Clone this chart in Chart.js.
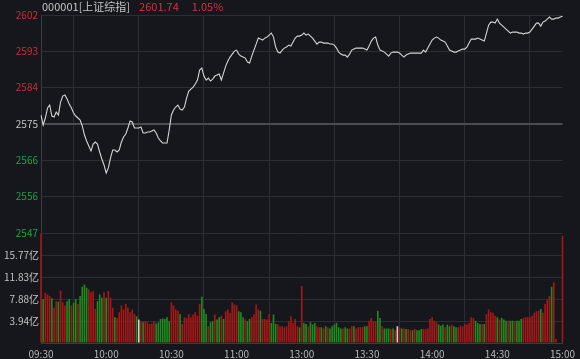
<!DOCTYPE html>
<html>
<head>
<meta charset="utf-8">
<script src="https://cdn.jsdelivr.net/npm/chart.js@4.4.1/dist/chart.umd.min.js"></script>
<style>
  html, body { margin: 0; padding: 0; background: #15171c; }
  #wrap { position: relative; width: 580px; height: 359px; }
  #title { position: absolute; left: 42px; top: -1px; font: 11px "Noto Sans CJK SC", sans-serif; color: #c4c4c4; white-space: nowrap; line-height: 14px; }
  #title .up { color: #d8333b; }
</style>
</head>
<body>
<div id="wrap">
  <canvas id="minuteChart" width="580" height="359"></canvas>
  <div id="title">000001[上证综指]<span class="up" style="margin-left:9px">2601.74</span><span class="up" style="margin-left:13px">1.05%</span></div>
</div>
<script>
//minute data, 09:30 -> 15:00 (241 points)
var prices = [
  2576.95, 2574.45, 2576.20, 2578.71, 2579.46, 2576.70, 2576.45, 2577.70, 2576.95, 2580.21,
  2581.71, 2581.96, 2580.96, 2579.71, 2578.71, 2577.45, 2576.70, 2576.20, 2575.70, 2574.20,
  2571.94, 2570.44, 2569.19, 2567.93, 2569.69, 2570.19, 2569.69, 2567.68, 2565.93, 2564.43,
  2562.42, 2563.68, 2566.18, 2568.18, 2568.18, 2567.68, 2568.18, 2570.19, 2571.44, 2572.19,
  2573.69, 2575.45, 2575.20, 2573.69, 2573.69, 2573.69, 2573.94, 2572.44, 2572.44, 2572.69,
  2572.69, 2572.94, 2573.19, 2572.44, 2571.19, 2570.44, 2569.94, 2569.94, 2569.94, 2573.19,
  2576.95, 2578.20, 2578.96, 2579.46, 2578.46, 2578.20, 2578.96, 2581.21, 2582.96, 2583.46,
  2583.96, 2584.72, 2585.72, 2588.22, 2588.72, 2586.72, 2585.72, 2586.22, 2585.47, 2585.97,
  2586.72, 2586.97, 2587.22, 2585.72, 2587.47, 2589.22, 2590.47, 2591.48, 2592.23, 2592.98,
  2593.23, 2592.23, 2591.73, 2591.48, 2591.23, 2590.22, 2589.97, 2591.73, 2593.23, 2594.74,
  2596.24, 2595.99, 2595.74, 2596.24, 2596.49, 2596.99, 2597.49, 2596.49, 2593.98, 2592.73,
  2592.48, 2593.23, 2593.73, 2593.98, 2594.49, 2594.23, 2595.24, 2596.24, 2596.74, 2596.74,
  2596.99, 2597.49, 2596.99, 2597.24, 2596.74, 2596.24, 2595.49, 2594.74, 2595.24, 2595.24,
  2594.99, 2594.99, 2594.99, 2594.74, 2594.74, 2594.49, 2593.73, 2592.73, 2592.23, 2591.98,
  2591.98, 2591.48, 2592.23, 2593.23, 2593.48, 2593.73, 2593.73, 2593.73, 2593.73, 2593.48,
  2593.23, 2594.23, 2595.49, 2596.24, 2596.49, 2594.49, 2593.23, 2592.98, 2592.73, 2592.23,
  2591.73, 2592.48, 2592.73, 2592.73, 2592.73, 2592.48, 2591.98, 2591.48, 2591.98, 2592.23,
  2592.48, 2592.48, 2592.48, 2592.48, 2592.48, 2592.48, 2593.23, 2592.73, 2593.73, 2594.74,
  2595.74, 2596.24, 2596.49, 2596.24, 2595.74, 2595.49, 2595.24, 2594.23, 2593.23, 2592.98,
  2592.73, 2592.73, 2592.98, 2593.23, 2593.48, 2593.48, 2593.98, 2594.99, 2595.99, 2595.99,
  2595.99, 2596.24, 2595.99, 2595.74, 2595.49, 2597.49, 2599.49, 2600.25, 2600.25, 2600.00,
  2601.00, 2600.00, 2599.49, 2598.99, 2598.49, 2597.99, 2597.49, 2597.74, 2597.74, 2597.74,
  2597.49, 2597.49, 2597.24, 2597.49, 2597.49, 2597.74, 2598.49, 2599.24, 2600.00, 2600.00,
  2599.24, 2600.25, 2600.50, 2601.00, 2601.50, 2601.00, 2601.00, 2601.25, 2601.25, 2601.50,
  2601.74
];

//turnover in 亿
var volumes = [
  19.6, 7.9, 9.0, 8.7, 8.4, 8.0, 6.3, 7.5, 7.4, 9.4,
  7.3, 6.7, 7.5, 7.9, 6.7, 7.2, 7.9, 7.0, 8.4, 10.1,
  10.5, 9.9, 9.6, 9.1, 9.3, 6.1, 7.5, 8.7, 8.1, 9.1,
  8.1, 9.3, 8.1, 6.3, 4.6, 4.5, 5.5, 6.7, 6.0, 7.0,
  6.3, 5.5, 6.0, 5.2, 4.8, 4.2, 3.9, 3.7, 3.9, 3.7,
  3.4, 3.5, 3.9, 3.5, 3.7, 4.3, 4.4, 4.3, 4.6, 3.9,
  7.3, 6.7, 6.0, 5.8, 5.2, 3.4, 4.6, 4.5, 5.2, 4.6,
  5.1, 5.5, 4.9, 7.0, 8.3, 6.1, 5.2, 3.0, 3.7, 3.9,
  5.1, 4.2, 4.6, 4.9, 4.3, 5.7, 6.0, 5.4, 7.3, 6.9,
  6.7, 5.7, 5.5, 4.6, 4.2, 3.9, 4.3, 4.6, 5.1, 6.9,
  6.0, 5.8, 4.3, 4.3, 4.2, 5.2, 3.6, 5.1, 3.4, 3.3,
  3.0, 3.0, 2.8, 3.0, 3.9, 4.8, 3.6, 4.3, 3.0, 2.8,
  10.2, 3.6, 3.4, 3.0, 3.7, 3.3, 3.6, 3.0, 2.8, 2.8,
  2.6, 3.0, 2.8, 2.6, 3.0, 3.3, 3.6, 2.8, 2.6, 2.6,
  2.8, 2.6, 2.6, 3.0, 3.0, 2.6, 2.8, 2.8, 2.8, 3.0,
  3.0, 4.0, 4.5, 3.9, 3.9, 5.8, 4.5, 3.0, 2.6, 2.6,
  2.6, 2.5, 2.6, 2.3, 3.0, 2.8, 2.6, 2.6, 2.5, 2.5,
  2.3, 2.3, 2.5, 2.3, 2.3, 2.5, 2.5, 2.5, 2.6, 4.3,
  4.6, 4.0, 3.7, 3.3, 3.1, 3.3, 2.8, 3.3, 3.0, 3.3,
  3.0, 2.8, 2.8, 3.1, 3.0, 3.4, 3.3, 3.6, 4.6, 4.5,
  4.0, 3.6, 3.4, 3.4, 3.4, 5.2, 6.0, 5.5, 5.4, 4.9,
  4.6, 4.2, 4.5, 4.2, 4.0, 4.0, 4.0, 4.0, 3.9, 4.0,
  4.0, 4.3, 4.5, 4.6, 4.6, 4.6, 4.9, 5.4, 5.7, 5.8,
  6.1, 5.4, 7.0, 7.8, 8.4, 10.1, 10.9, 0.7, 0, 0,
  19.2
];

//tick direction of each minute: 1 up, -1 down, 0 flat
var ticksDir = [
  1,-1,1,1,1,-1,1,1,-1,1,   1,1,-1,-1,1,-1,-1,1,-1,-1,
  -1,-1,1,1,1,1,-1,-1,-1,1, -1,1,1,1,-1,1,1,1,1,1,
  1,1,1,1,-1,0,1,-1,1,1,    1,1,1,-1,-1,-1,-1,-1,-1,-1,
  1,1,1,1,-1,1,1,1,1,1,     1,1,1,1,-1,-1,-1,1,-1,-1,
  1,-1,-1,1,-1,1,1,1,1,1,   1,-1,-1,-1,1,-1,-1,1,1,1,
  1,-1,1,1,1,1,-1,-1,-1,1,  1,1,1,1,1,1,1,1,1,-1,
  1,-1,-1,1,-1,-1,-1,1,1,-1, 1,-1,1,-1,-1,-1,-1,-1,-1,1,
  -1,-1,1,1,-1,1,1,1,1,-1,  -1,1,1,1,1,-1,-1,1,-1,-1,
  -1,1,-1,1,0,1,-1,1,-1,1,  1,-1,1,-1,-1,-1,1,1,1,1,
  1,1,1,-1,-1,-1,1,-1,-1,1, -1,-1,1,1,1,1,1,1,1,1,
  -1,-1,-1,1,-1,1,1,1,1,1,  -1,1,-1,-1,-1,1,-1,-1,1,-1,
  -1,-1,1,1,1,1,1,1,1,1,    -1,1,1,1,1,-1,1,1,1,1,
  1
];

var preClose = 2574.70;
var priceStep = 9.11;
var volStep = 3.942;
var axisIndex = [0, 30, 60, 90, 120, 150, 180, 210, 240];
var axisTimes = ['09:30', '10:00', '10:30', '11:00', '13:00', '13:30', '14:00', '14:30', '15:00'];

function pad(n) { return n < 10 ? '0' + n : '' + n; }
var minutes = [];
for (var i = 0; i < prices.length; i++) {
    var m = i <= 120 ? 9 * 60 + 30 + i : 13 * 60 + (i - 120);
    minutes.push(pad(Math.floor(m / 60)) + ':' + pad(m % 60));
}

var RED = '#cc2f37', GREEN = '#25a045', GRAY = '#c4c4c4';
var barColors = ticksDir.map(function (d) { return d > 0 ? '#a51818' : (d < 0 ? '#1f8a1d' : '#d0d0d0'); });
var gridColor = '#2c2e33';
var font = { family: '"Noto Sans CJK SC", sans-serif', size: 10 };

const minuteChart = document.getElementById('minuteChart');
const myChart = new Chart(minuteChart, {
    data: {
        labels: minutes,
        datasets: [{
            type: 'line',
            data: prices,
            yAxisID: 'y',
            borderColor: '#d4d4d4',
            borderWidth: 1.1,
            pointRadius: 0,
            tension: 0
        }, {
            type: 'bar',
            data: volumes,
            yAxisID: 'vol',
            backgroundColor: barColors,
            barPercentage: 0.75,
            categoryPercentage: 1,
            clip: { left: 2, right: 2, top: 0, bottom: 0 }
        }]
    },
    options: {
        responsive: false,
        animation: false,
        devicePixelRatio: 1,
        events: [],
        layout: { padding: { top: 15, right: 13, left: 0, bottom: 0 } },
        plugins: { legend: { display: false }, tooltip: { enabled: false } },
        scales: {
            x: {
                offset: false,
                grid: { color: gridColor, drawTicks: false },
                border: { color: '#3a3c41' },
                ticks: {
                    color: '#b8b8b8', font: font, padding: 5, maxRotation: 0, autoSkip: false,
                    callback: function (v, idx) { return axisTimes[idx]; }
                },
                afterBuildTicks: function (s) { s.ticks = axisIndex.map(function (v) { return { value: v }; }); },
                afterFit: function (s) { s.height = 16; }
            },
            //volume first: later stacked left scales are placed on top
            vol: {
                position: 'left',
                stack: 'main',
                stackWeight: 110,
                min: 0,
                max: 5 * volStep,
                afterBuildTicks: function (s) {
                    s.ticks = [0, 1, 2, 3, 4, 5].map(function (k) { return { value: k * volStep }; });
                },
                ticks: {
                    font: font, padding: 2, color: GRAY, autoSkip: false,
                    callback: function (v, idx) { return (idx === 0 || idx === 5) ? '' : v.toFixed(2) + '亿'; }
                },
                grid: { color: gridColor, drawTicks: false },
                border: { color: '#3a3c41' },
                afterFit: function (s) { s.width = 41; }
            },
            y: {
                position: 'left',
                stack: 'main',
                stackWeight: 218,
                min: preClose - 3 * priceStep,
                max: preClose + 3 * priceStep,
                afterBuildTicks: function (s) {
                    s.ticks = [-3, -2, -1, 0, 1, 2, 3].map(function (k) { return { value: preClose + k * priceStep }; });
                },
                ticks: {
                    font: font, padding: 3, autoSkip: false,
                    callback: function (v) { return Math.round(v); },
                    color: function (c) {
                        var d = c.tick.value - preClose;
                        return d > 0.01 ? RED : (d < -0.01 ? GREEN : GRAY);
                    }
                },
                grid: {
                    drawTicks: false,
                    color: function (c) { return Math.abs(c.tick.value - preClose) < 0.01 ? '#4a4c51' : gridColor; },
                    lineWidth: function (c) { return Math.abs(c.tick.value - preClose) < 0.01 ? 2 : 1; }
                },
                border: { color: '#3a3c41' },
                afterFit: function (s) { s.width = 41; }
            }
        }
    }
});
</script>
</body>
</html>
